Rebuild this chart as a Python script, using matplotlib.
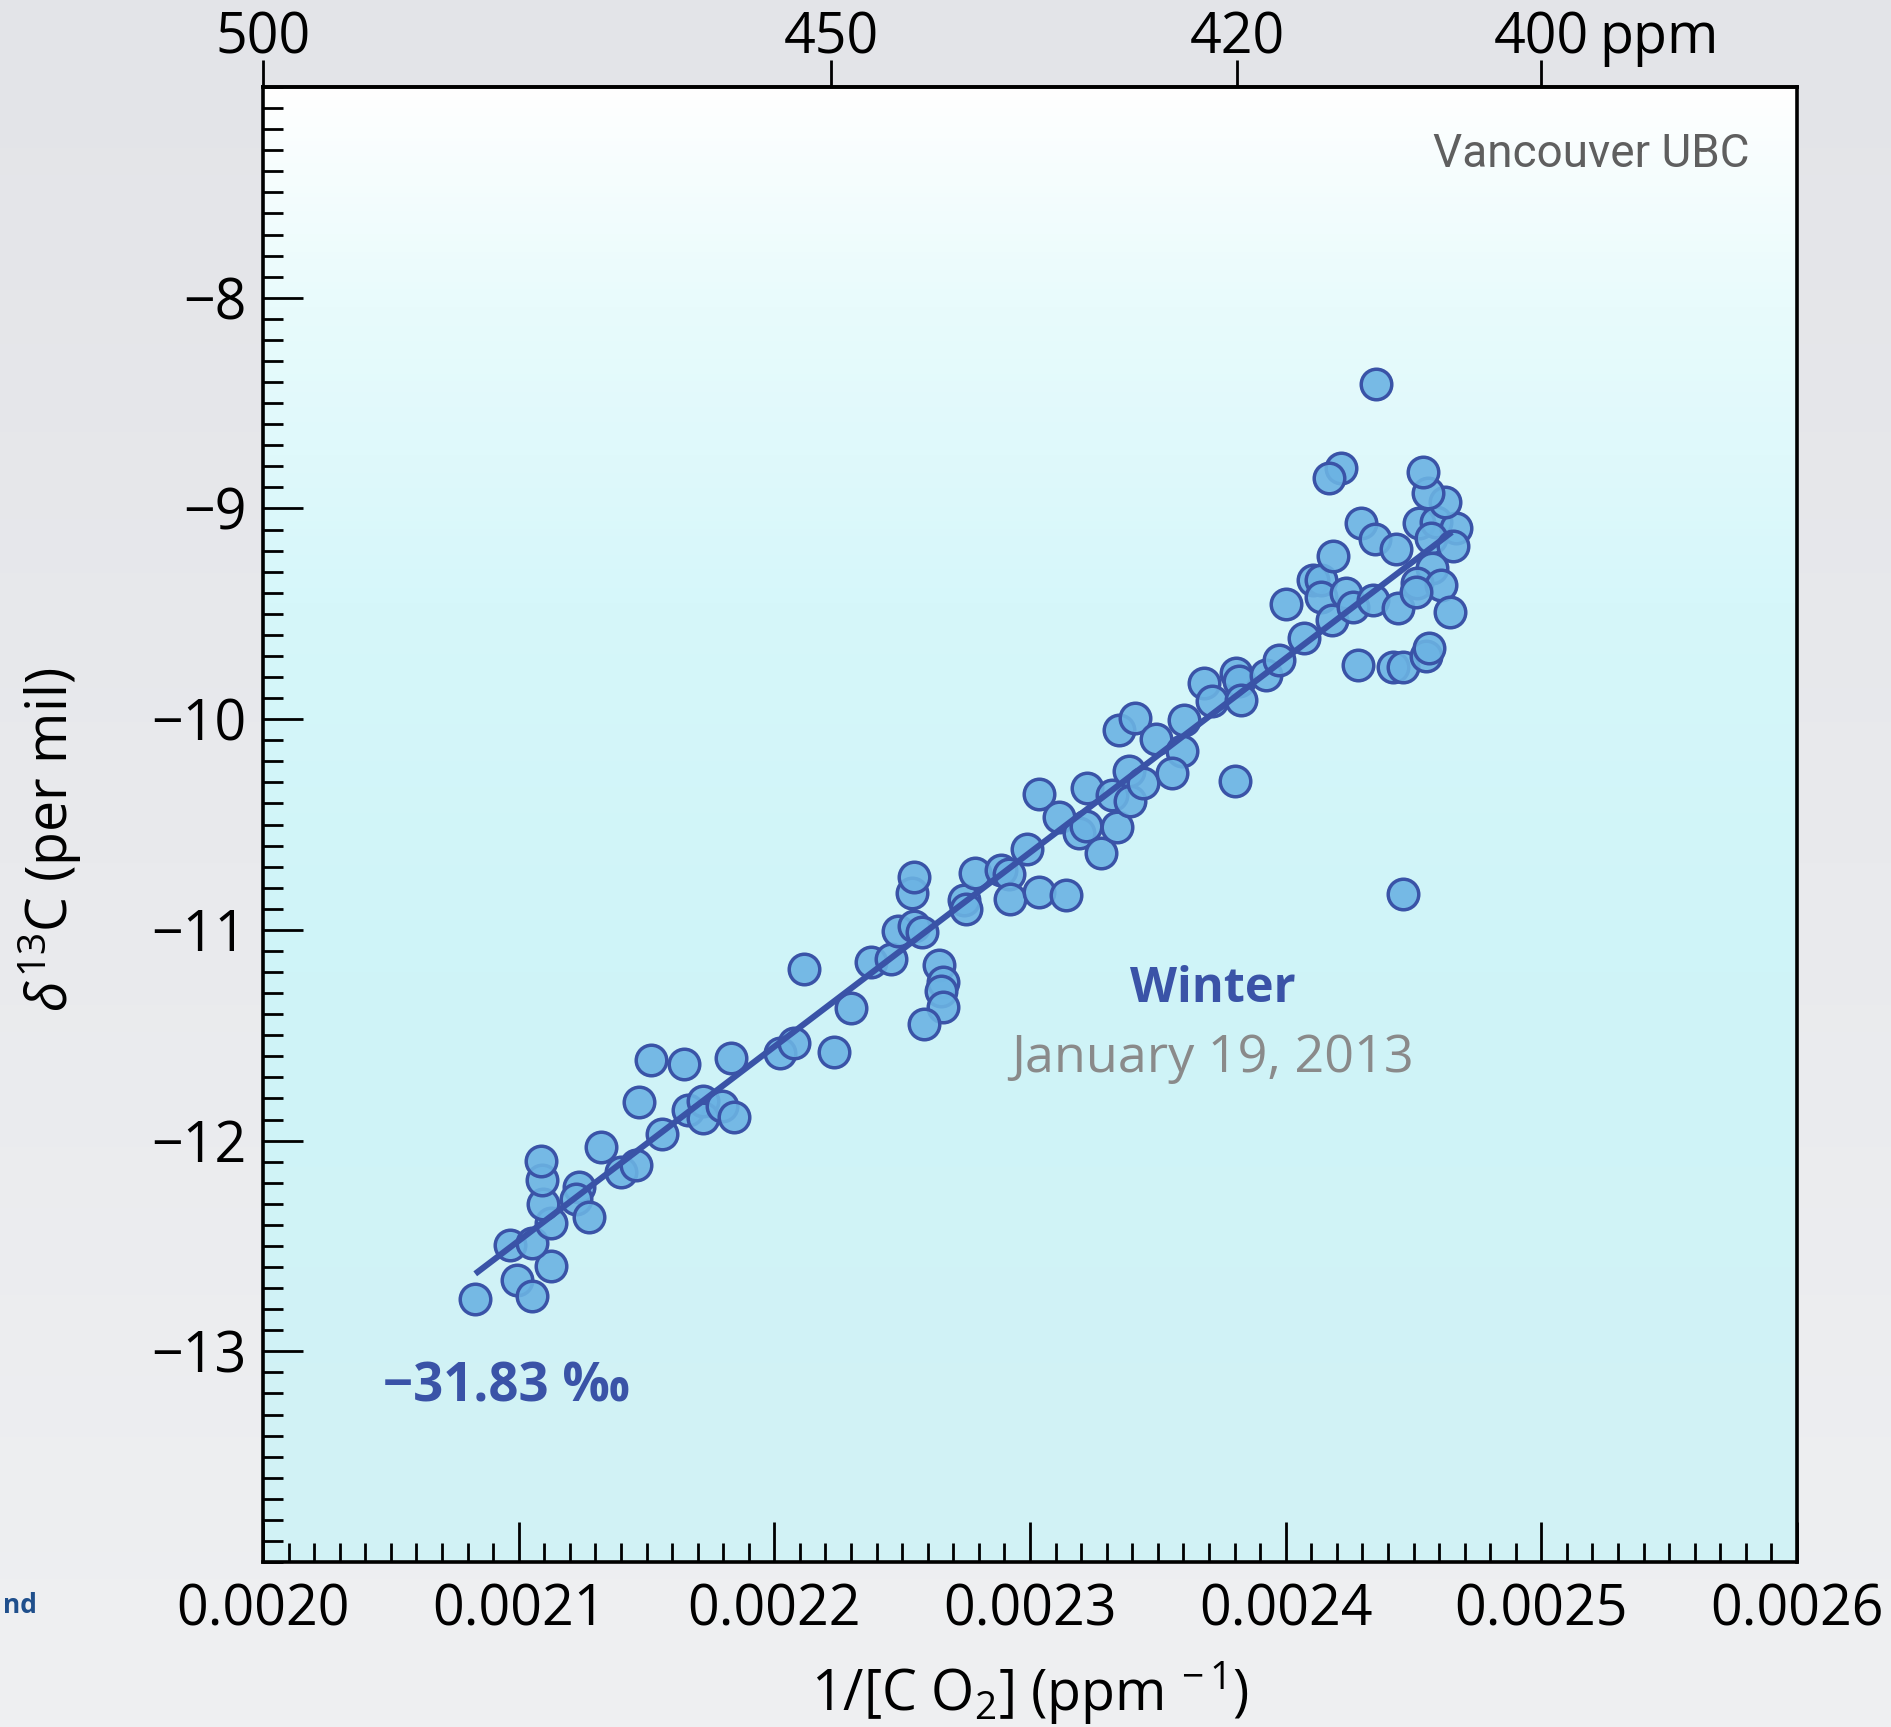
import numpy as np
import matplotlib
matplotlib.use("Agg")
import matplotlib.pyplot as plt
from matplotlib.colors import to_rgb
from matplotlib.ticker import MultipleLocator, NullLocator

plt.rcParams['font.family'] = ['Open Sans', 'DejaVu Sans']
plt.rcParams['mathtext.fontset'] = 'custom'
plt.rcParams['mathtext.rm'] = 'Open Sans'
plt.rcParams['mathtext.it'] = 'Open Sans:italic'

# values: 1/[CO2] (ppm^-1) and d13C (per mil)
inv_co2 = [
    0.0020829, 0.0020995, 0.0021051, 0.0021126, 0.0020965, 0.0021051, 0.0021128, 0.0021095, 0.0021090, 0.0021086,
    0.0021236, 0.0021223, 0.0021275, 0.0021321, 0.0021399, 0.0021458, 0.0021471, 0.0021560, 0.0021517, 0.0021647,
    0.0021664, 0.0021719, 0.0021719, 0.0021797, 0.0021843, 0.0021832, 0.0022022, 0.0022077, 0.0022234, 0.0022299,
    0.0022117, 0.0022378, 0.0022456, 0.0022482, 0.0022547, 0.0022577, 0.0022540, 0.0022547, 0.0022645, 0.0022658,
    0.0022651, 0.0022660, 0.0022586, 0.0022743, 0.0022749, 0.0022786, 0.0022886, 0.0022916, 0.0022921, 0.0022990,
    0.0023036, 0.0023140, 0.0023036, 0.0023114, 0.0023192, 0.0023219, 0.0023223, 0.0023277, 0.0023342, 0.0023322,
    0.0023391, 0.0023388, 0.0023440, 0.0023349, 0.0023412, 0.0023493, 0.0023594, 0.0023555, 0.0023603, 0.0023682,
    0.0023712, 0.0023806, 0.0023819, 0.0023825, 0.0023923, 0.0023975, 0.0024073, 0.0023803, 0.0024281,
    0.0024001, 0.0024105, 0.0024138, 0.0024138, 0.0024184, 0.0024181, 0.0024236, 0.0024262, 0.0024340, 0.0024438,
    0.0024418, 0.0024457, 0.0024549, 0.0024562, 0.0024460, 0.0024295, 0.0024351, 0.0024432, 0.0024523, 0.0024589,
    0.0024666, 0.0024570, 0.0024653, 0.0024574, 0.0024515, 0.0024608, 0.0024641, 0.0024624, 0.0024555, 0.0024536,
    0.0024353, 0.0024216, 0.0024168, 0.0024510,
]
d13c = [
    -12.752, -12.661, -12.737, -12.594, -12.495, -12.484, -12.389, -12.300, -12.186, -12.097,
    -12.218, -12.278, -12.363, -12.031, -12.151, -12.115, -11.817, -11.968, -11.617, -11.636,
    -11.854, -11.814, -11.893, -11.838, -11.886, -11.610, -11.585, -11.537, -11.577, -11.371,
    -11.186, -11.150, -11.139, -11.003, -10.981, -11.012, -10.825, -10.749, -11.166, -11.245,
    -11.292, -11.366, -11.446, -10.857, -10.901, -10.728, -10.715, -10.734, -10.852, -10.617,
    -10.818, -10.833, -10.354, -10.462, -10.541, -10.509, -10.327, -10.636, -10.512, -10.359,
    -10.386, -10.248, -10.303, -10.050, -9.995, -10.094, -10.153, -10.256, -10.006, -9.826,
    -9.916, -9.781, -9.821, -9.908, -9.789, -9.718, -9.614, -10.292, -9.742,
    -9.452, -9.338, -9.338, -9.419, -9.224, -9.528, -9.400, -9.467, -9.433, -9.473,
    -9.750, -9.750, -9.699, -9.663, -10.830, -9.068, -9.145, -9.191, -9.069, -9.063,
    -9.093, -9.140, -9.180, -9.283, -9.354, -9.362, -9.490, -8.967, -8.927, -8.829,
    -8.410, -8.808, -8.856, -9.395,
]

# Keeling fit line ends (intercept -31.83)
fit_x = [0.002083, 0.002465]
fit_y = [-12.632, -9.112]
intercept_txt = "\u221231.83 \u2030"

x_ticks = [0.0020, 0.0021, 0.0022, 0.0023, 0.0024, 0.0025, 0.0026]
x_ticklabels = ["0.0020", "0.0021", "0.0022", "0.0023", "0.0024", "0.0025", "0.0026"]
y_ticks = [-8, -9, -10, -11, -12, -13]
y_ticklabels = ["\u22128", "\u22129", "\u221210", "\u221211", "\u221212", "\u221213"]
top_ppm = [500, 450, 420, 400]
top_labels = ["500", "450", "420", "400"]

blue = '#3a53a7'

fig = plt.figure(figsize=(18.91, 17.27), dpi=100)

# page background
bg = fig.add_axes([0, 0, 1, 1], zorder=-10)
c0, c1 = np.array(to_rgb('#e3e4e8')), np.array(to_rgb('#eff0f2'))
t = np.linspace(0, 1, 256)[:, None]
bg.imshow((c0 * (1 - t) + c1 * t)[:, None, :], aspect='auto', extent=[0, 1, 0, 1])
bg.axis('off')

ax = fig.add_axes([0.1391, 0.0955, 0.8112, 0.8541])
ax.set_facecolor('none')

# panel gradient: white at top to pale cyan
stops = [0.0, 0.15, 0.35, 0.6, 1.0]
cols = [to_rgb(c) for c in ['#ffffff', '#e8fbfc', '#d6f7fa', '#cff4f8', '#d2f2f5']]
tt = np.linspace(0, 1, 400)
grad = np.stack([np.interp(tt, stops, [c[i] for c in cols]) for i in range(3)], axis=1)
ax.imshow(grad[:, None, :], aspect='auto', extent=[0, 1, 0, 1],
          transform=ax.transAxes, zorder=0)

ax.plot(inv_co2, d13c, 'o', ms=22, mfc=(0.42, 0.70, 0.89, 0.9), mec=blue, mew=2.5,
        linestyle='none', zorder=3)
ax.plot(fit_x, fit_y, color=blue, lw=4.4, solid_capstyle='butt', zorder=4)

ax.set_xlim(0.0020, 0.0026)
ax.set_ylim(-14, -7)

ax.set_xticks(x_ticks)
ax.set_xticklabels(x_ticklabels)
ax.set_yticks(y_ticks)
ax.set_yticklabels(y_ticklabels)
ax.xaxis.set_minor_locator(MultipleLocator(0.00001))
ax.yaxis.set_minor_locator(MultipleLocator(0.1))
ax.tick_params(axis='x', which='major', direction='in', length=28.8, width=2,
               labelsize=40, pad=15, top=False)
ax.tick_params(axis='x', which='minor', direction='in', length=13.7, width=2, top=False)
ax.tick_params(axis='y', which='major', direction='in', length=28.8, width=2,
               labelsize=40, pad=12, right=False)
ax.tick_params(axis='y', which='minor', direction='in', length=14.4, width=2, right=False)
for s in ax.spines.values():
    s.set_linewidth(2.6)
    s.set_zorder(5)

sec = ax.secondary_xaxis('top', functions=(lambda v: 1 / v, lambda v: 1 / v))
sec.set_xticks(top_ppm)
sec.set_xticklabels(top_labels)
sec.xaxis.set_minor_locator(NullLocator())
sec.tick_params(axis='x', direction='out', length=19.4, width=2, labelsize=40, pad=-5)
sec.spines['top'].set_linewidth(2.6)
ax.annotate("ppm", xy=(1 / 400, 1), xycoords=('data', 'axes fraction'),
            xytext=(42, 14.4), textcoords='offset points', ha='left', va='bottom',
            fontsize=40, annotation_clip=False)

ax.set_xlabel(r"1/[C O$_{2}$] (ppm $^{-\,1}$)", fontsize=40)
ax.xaxis.set_label_coords(0.5, -0.066)
ax.xaxis.label.set_va('top')
ax.set_ylabel(r"$\delta^{13}$C (per mil)", fontsize=40)
ax.yaxis.set_label_coords(-0.1167, 0.49)

ax.text(0.969, 0.9546, "Vancouver UBC", transform=ax.transAxes, ha='right', va='center',
        fontsize=33, color='#5f5f5f', family=['Roboto', 'DejaVu Sans'])
ax.text(0.619, 0.3885, "Winter", transform=ax.transAxes, ha='center', va='center',
        fontsize=35, color=blue, fontweight='bold')
ax.text(0.619, 0.3417, "January 19, 2013", transform=ax.transAxes, ha='center', va='center',
        fontsize=37.5, color='#8a8a8a')
ax.text(0.078, 0.1186, intercept_txt, transform=ax.transAxes, ha='left', va='center',
        fontsize=38, color=blue, fontweight='bold')

fig.text(37 / 1891, 0.0706, "nd", ha='right', va='center', fontsize=19,
         color='#1f4f8c', fontweight='bold')

fig.savefig("out.png", dpi=100)
